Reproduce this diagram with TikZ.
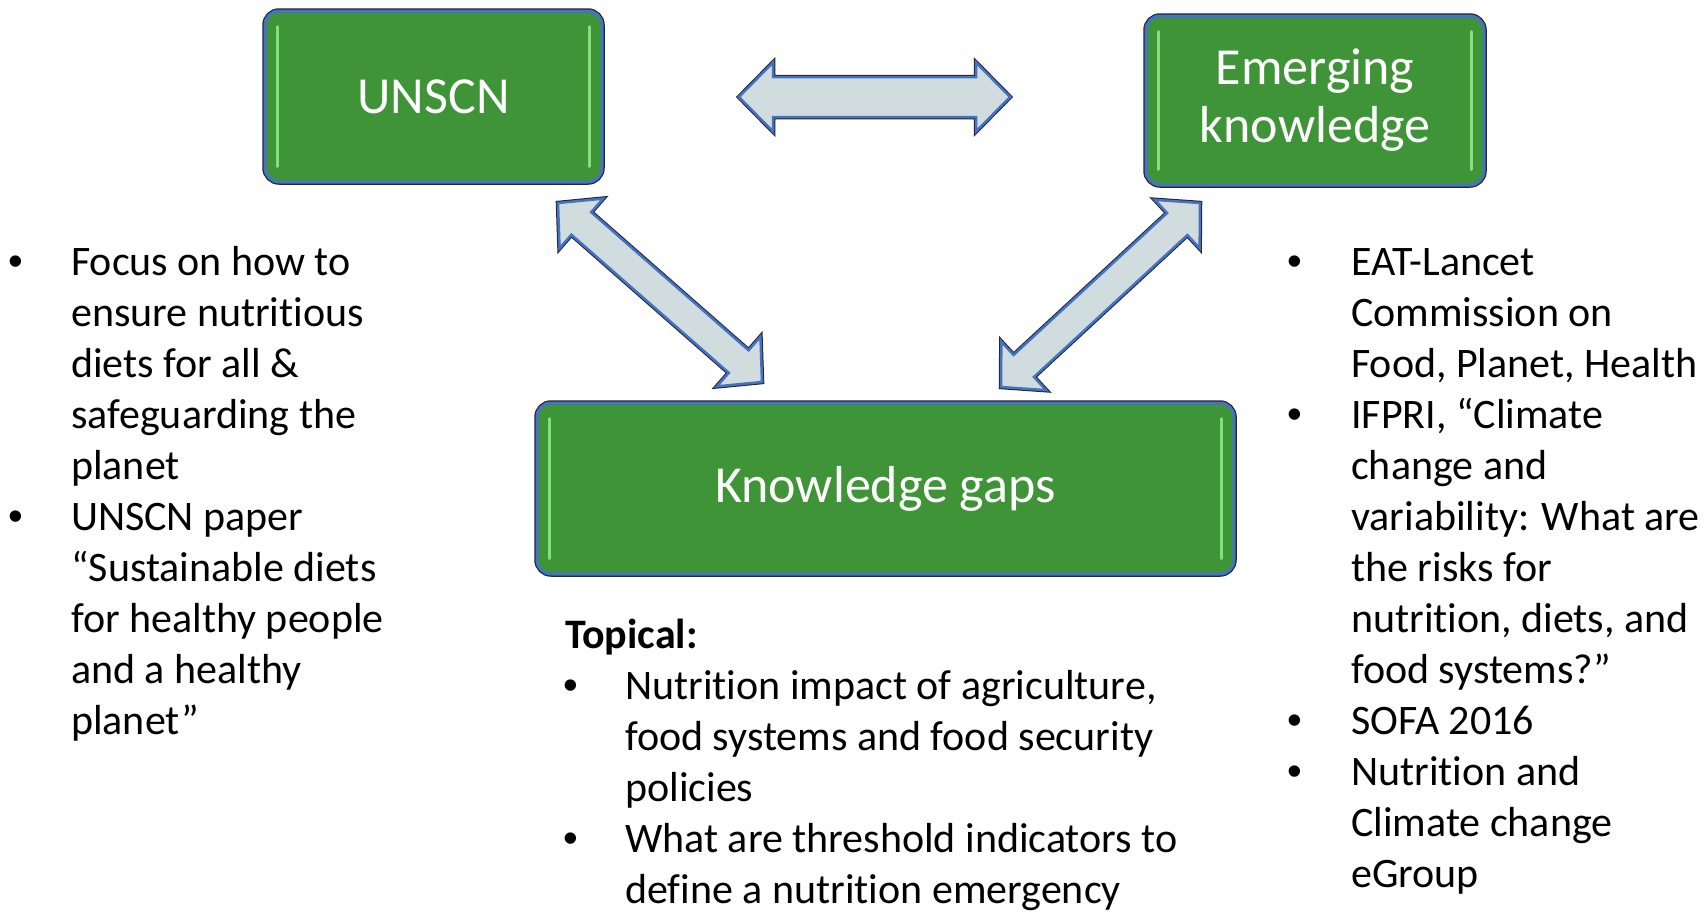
\documentclass[tikz,border=0pt]{standalone}
\usepackage{fontspec}
\setmainfont{Carlito}[Ligatures={NoCommon,NoRequired,NoContextual},Contextuals=NoAlternate]
\newfontfamily\myBulFont{Liberation Sans}
\usetikzlibrary{calc}
\definecolor{boxgreen}{RGB}{62,148,54}
\definecolor{edgeblue}{RGB}{68,114,196}
\definecolor{arrowfill}{RGB}{208,220,222}
\definecolor{hlgreen}{RGB}{130,225,120}
\newcommand\myBody{\fontsize{42}{51}\selectfont}
\newcommand\myBoxFont{\fontsize{52}{58}\selectfont}
\newcommand\myblockarrow[5]{%
  \path ($(#1)!#5!(#2)$) coordinate (ba1) ($(#2)!#5!(#1)$) coordinate (ba2);
  \draw[barrow] (#1) -- ($(ba1)!#4!90:(#2)$) -- ($(ba1)!#3!90:(#2)$)
    -- ($(ba2)!#3!-90:(#1)$) -- ($(ba2)!#4!-90:(#1)$) -- (#2)
    -- ($(ba2)!#4!90:(#1)$) -- ($(ba2)!#3!90:(#1)$)
    -- ($(ba1)!#3!-90:(#2)$) -- ($(ba1)!#4!-90:(#2)$) -- cycle;}
\begin{document}
\begin{tikzpicture}[x=1pt,y=1pt,
  gbox/.style={rectangle, rounded corners=14pt, fill=boxgreen, draw=edgeblue,
    line width=3pt, preaction={draw=black!85, line width=5.5pt},
    text=white, font=\myBoxFont, align=center, inner sep=0pt},
  hl/.style={draw=hlgreen, line width=3pt, line cap=round},
  barrow/.style={fill=arrowfill, draw=edgeblue, line width=2.5pt, line join=miter,
    preaction={draw=black!85, line width=4.5pt}},
  body/.style={font=\myBody, inner sep=0pt, text=black},
  bul/.style={font=\myBody\myBulFont, inner sep=0pt, text=black, anchor=base}]
\useasboundingbox (0,0) rectangle (1708,-911);
\fill[white] (0,0) rectangle (1708,-911);

% boxes
\node[gbox, minimum width=337pt, minimum height=171pt] (unscn) at (433.5,-96.5) {UNSCN};
\node[gbox, minimum width=338pt, minimum height=169pt] (emerg) at (1315,-100.5) {Emerging\\knowledge};
\node[gbox, minimum width=697pt, minimum height=171pt] (gaps) at (885.5,-488.5) {Knowledge gaps};
\foreach \n in {unscn,emerg,gaps}{
  \draw[hl] ([xshift=14pt,yshift=-17pt]\n.north west) -- ([xshift=14pt,yshift=17pt]\n.south west);
  \draw[hl] ([xshift=-14pt,yshift=-17pt]\n.north east) -- ([xshift=-14pt,yshift=17pt]\n.south east);
}

% block arrows
\coordinate (h1) at (739,-97);
\coordinate (h2) at (1010,-97);
\coordinate (d1a) at (558,-203);
\coordinate (d1b) at (762,-382);
\coordinate (d2a) at (1200,-203);
\coordinate (d2b) at (1001,-387);
\myblockarrow{h1}{h2}{20pt}{34.5pt}{34pt}
\myblockarrow{d1a}{d1b}{15pt}{33pt}{31pt}
\myblockarrow{d2a}{d2b}{15pt}{33pt}{31pt}

% left list
\foreach \t [count=\i] in {Focus on how to, ensure nutritious, diets for all \&,
  safeguarding the, planet, UNSCN paper, “Sustainable diets, for healthy people,
  and a healthy, planet”}{
  \node[body, anchor=base west] (L\i) at (71,{-275-51*(\i-1)}) {\t};
}
\node[bul] (Lb1) at (16,-275) {•};
\node[bul] (Lb2) at (16,-530) {•};

% right list
\foreach \t [count=\i] in {EAT-Lancet, Commission on, {Food, Planet, Health},
  {IFPRI, “Climate}, change and, variability: What are, the risks for,
  {nutrition, diets, and}, food systems?”, SOFA 2016, Nutrition and,
  Climate change, eGroup}{
  \node[body, anchor=base west] (R\i) at (1351,{-275-51*(\i-1)}) {\t};
}
\node[bul] (Rb1) at (1295,-275) {•};
\node[bul] (Rb2) at (1295,-428) {•};
\node[bul] (Rb3) at (1295,-734) {•};
\node[bul] (Rb4) at (1295,-785) {•};

% bottom list
\node[body, anchor=base west, font=\myBody\bfseries] (topical) at (565,-648) {Topical:};
\foreach \t [count=\i] in {{Nutrition impact of agriculture,}, food systems and food security,
  policies, What are threshold indicators to, define a nutrition emergency}{
  \node[body, anchor=base west] (B\i) at (625,{-699-51*(\i-1)}) {\t};
}
\node[bul] (Bb1) at (571,-699) {•};
\node[bul] (Bb2) at (571,-852) {•};
\end{tikzpicture}
\end{document}
